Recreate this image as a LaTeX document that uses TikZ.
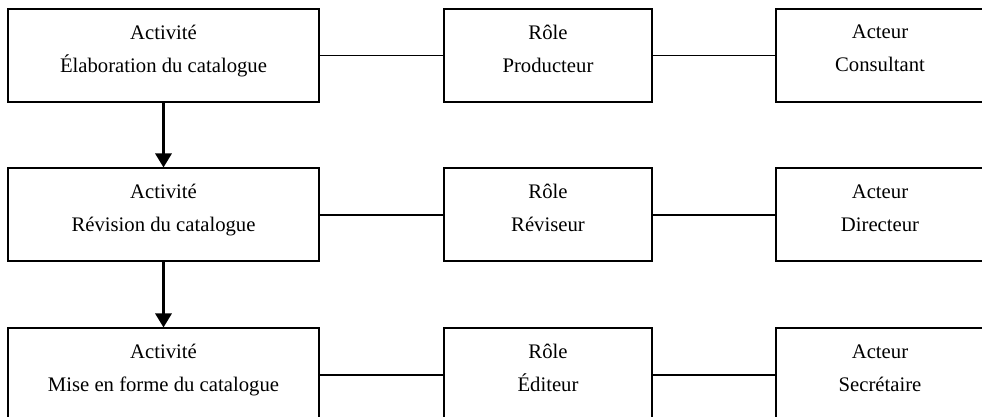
\documentclass[tikz,border=0pt]{standalone}
\usepackage{fontspec}
\setmainfont{Liberation Serif}
\usepackage{tikz}
\usetikzlibrary{arrows.meta}

\tikzset{
  stepbox/.style={draw, line width=1pt, align=center, inner sep=0pt,
    font=\fontsize{10.35}{16.5}\selectfont, text depth=7pt},
  actbox/.style={stepbox, minimum width=155.5pt, minimum height=46.5pt},
  rolebox/.style={stepbox, minimum width=104pt, minimum height=46.5pt},
  link/.style={line width=0.75pt},
  flow/.style={line width=1.5pt, -{Triangle[width=8pt,length=7pt]}}
}

\begin{document}
\begin{tikzpicture}[x=0.5pt, y=-0.5pt]
  \clip (0,0) rectangle (982,417);

  % activities
  \node[actbox] (act1) at (163.5,55.5) {Activité\\Élaboration du catalogue};
  \node[actbox] (act2) at (163.5,215) {Activité\\Révision du catalogue};
  \node[actbox] (act3) at (163.5,375) {Activité\\Mise en forme du catalogue};

  % roles
  \node[rolebox] (role1) at (548,55.5) {Rôle\\Producteur};
  \node[rolebox] (role2) at (548,215) {Rôle\\Réviseur};
  \node[rolebox] (role3) at (548,375) {Rôle\\Éditeur};

  % actors
  \node[rolebox] (actor1) at (880,55.5) {Acteur\\Consultant};
  \node[rolebox] (actor2) at (880,215) {Acteur\\Directeur};
  \node[rolebox] (actor3) at (880,375) {Acteur\\Secrétaire};

  % links between activity, role and actor
  \foreach \i in {1,2,3} {
    \draw[link] (act\i.east) -- (role\i.west);
    \draw[link] (role\i.east) -- (actor\i.west);
  }

  % sequence of activities
  \draw[flow] (act1.south) -- (act2.north);
  \draw[flow] (act2.south) -- (act3.north);
\end{tikzpicture}
\end{document}
